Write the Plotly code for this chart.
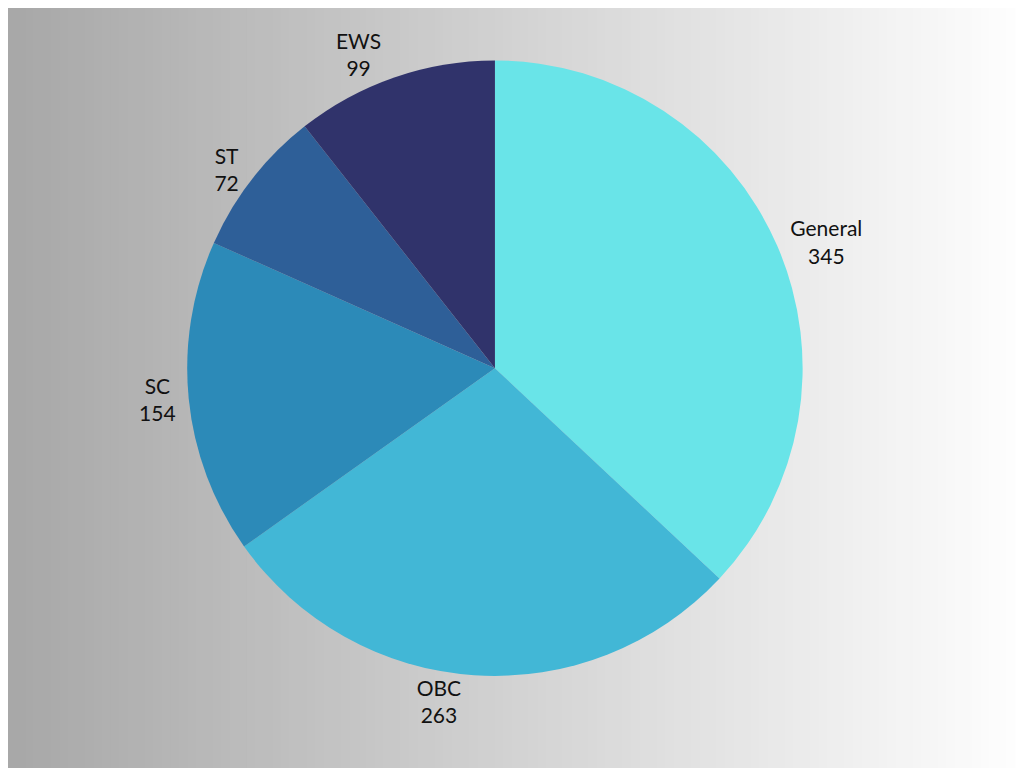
import plotly.graph_objects as go

labels = ["General", "OBC", "SC", "ST", "EWS"]
values = [345, 263, 154, 72, 99]
colors = ["#69e4e8", "#42b7d6", "#2c8ab8", "#2e5f98", "#30336b"]

# gradient background: grey on the left to white on the right
n = 120
shapes = []
for i in range(n):
    t = i / (n - 1)
    g = int(168 + (255 - 168) * t)
    shapes.append(dict(type="rect", xref="paper", yref="paper", layer="below",
                       x0=i / n, x1=(i + 1) / n + 0.002, y0=0, y1=1,
                       line=dict(width=0), fillcolor=f"rgb({g},{g},{g})"))

fig = go.Figure(go.Pie(
    labels=labels, values=values, sort=False, direction="clockwise", rotation=0,
    marker=dict(colors=colors, line=dict(width=0)),
    textinfo="label+value", textposition="outside",
    texttemplate="%{label}<br>%{value}",
    textfont=dict(family="Lato, Open Sans", size=21, color="#111111"),
    domain=dict(x=[0.175, 0.776], y=[0.130, 0.932]),
    showlegend=False,
))
fig.update_layout(width=1024, height=768, margin=dict(l=0, r=0, t=0, b=0),
                  paper_bgcolor="white", plot_bgcolor="white", shapes=shapes)
fig.write_html("out.html")
